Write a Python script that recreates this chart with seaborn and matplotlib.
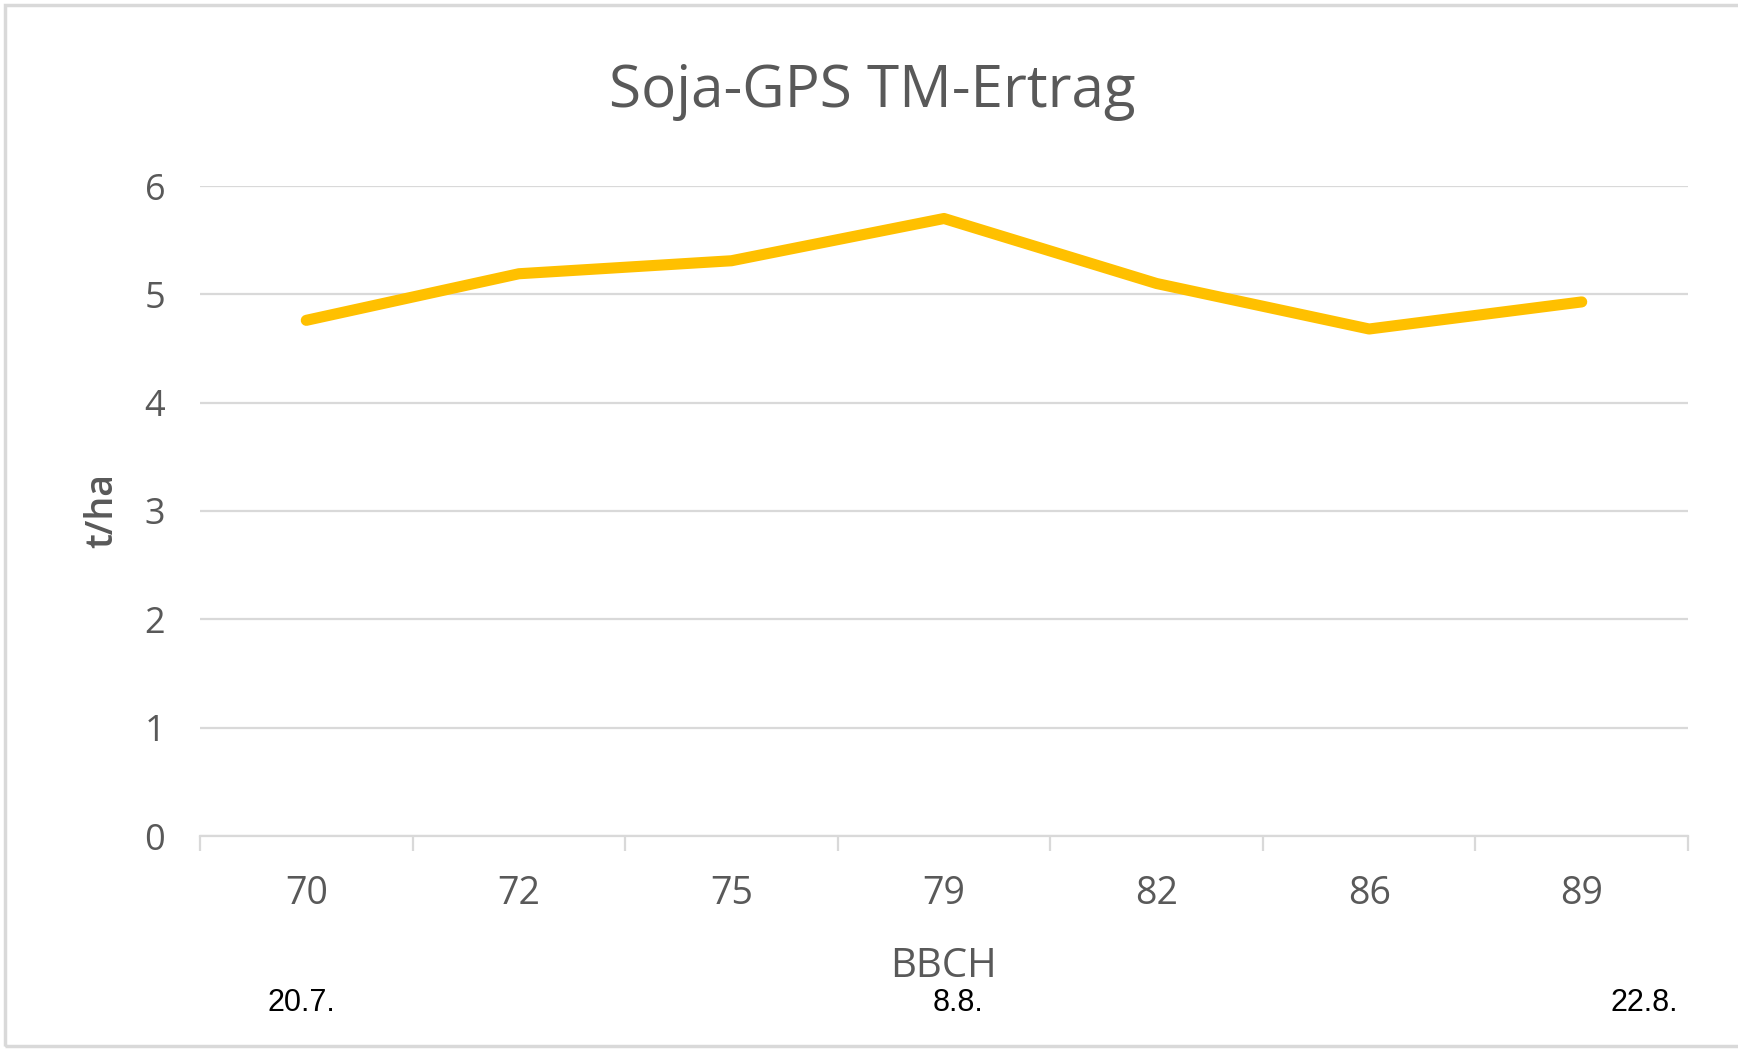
import numpy as np
import pandas as pd
import seaborn as sns
import matplotlib.pyplot as plt
from matplotlib.ticker import FixedLocator

# Data ########################################################################
bbch = ["70", "72", "75", "79", "82", "86", "89"]
ertrag = [4.76, 5.19, 5.31, 5.70, 5.10, 4.68, 4.93]
dates = ["20.7.", "8.8.", "22.8."]
yticks = [0, 1, 2, 3, 4, 5, 6]

df = pd.DataFrame({"BBCH": bbch, "t/ha": ertrag})

sns.set_style("white")
plt.rcParams['font.family'] = ['Open Sans', 'DejaVu Sans']

W, H = 1738, 1049
fig = plt.figure(figsize=(W / 100, H / 100), dpi=100)
ax = fig.add_axes([200 / W, 1 - 836 / H, (1688 - 200) / W, (836 - 186) / H])

grey = "#595959"
grid = "#D9D9D9"

# Plot the line ###############################################################
sns.lineplot(data=df, x="BBCH", y="t/ha", ax=ax, color="#FFC000", linewidth=8,
             solid_capstyle="round", sort=False)

ax.set_ylim(0, 6)
ax.set_xlim(-0.5, len(bbch) - 0.5)
ax.set_yticks(yticks)
ax.yaxis.grid(True, color=grid, linewidth=1.6)
ax.set_axisbelow(True)

for s in ["top", "right", "left"]:
    ax.spines[s].set_visible(False)
ax.spines["bottom"].set_color(grid)
ax.spines["bottom"].set_linewidth(1.6)

ax.tick_params(axis="y", length=0, labelsize=26, labelcolor=grey, pad=25)
ax.tick_params(axis="x", which="major", length=0, labelsize=27, labelcolor=grey, pad=28)
ax.xaxis.set_minor_locator(FixedLocator(np.arange(-0.5, len(bbch), 1.0)))
ax.tick_params(axis="x", which="minor", bottom=True, direction="out",
               length=11, width=1.6, color=grid)

ax.set_xlabel("BBCH", fontsize=29, color=grey, labelpad=24)
ax.set_ylabel("t/ha", fontsize=27, color=grey, fontweight="semibold", va="center")
ax.yaxis.set_label_coords(-0.066, 0.5)

fig.text(872 / W, 1 - 92 / H, "Soja-GPS TM-Ertrag", fontsize=42, color=grey,
         ha="center", va="center")

# Dates under the axis
date_x = [301, 958, 1644]
for d, xp in zip(dates, date_x):
    fig.text(xp / W, 1 - 1003 / H, d, fontsize=22, color="black",
             family="Liberation Sans", ha="center", va="center")

# Frame around the figure
fig.add_artist(plt.Rectangle((5 / W, 3 / H), 1.2, 1 - 8 / H, transform=fig.transFigure,
                             fill=False, edgecolor=grid, linewidth=2.5))

fig.savefig("out.png", dpi=100)
